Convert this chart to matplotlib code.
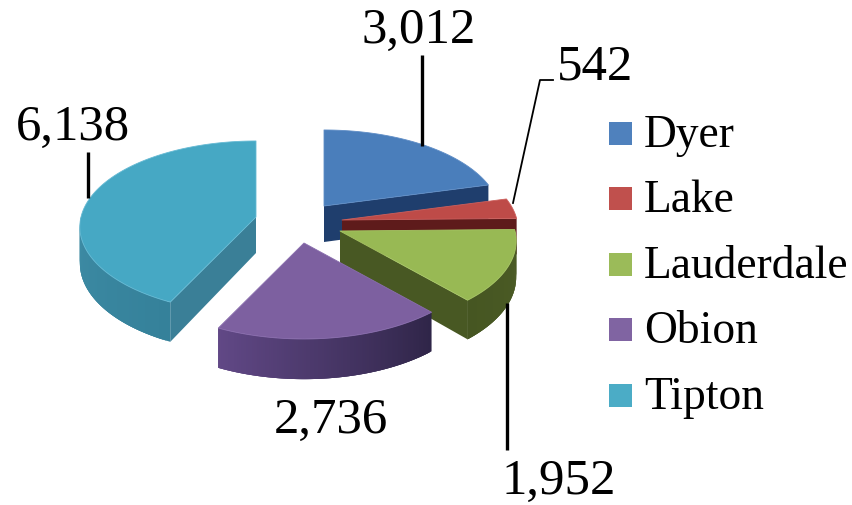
import matplotlib
matplotlib.use("Agg")
import matplotlib.pyplot as plt
from matplotlib.colors import to_rgb
from matplotlib.patches import Polygon, Rectangle
import numpy as np

plt.rcParams['font.family'] = ['Liberation Serif', 'DejaVu Serif']

counties = ["Dyer", "Lake", "Lauderdale", "Obion", "Tipton"]
values = [3012, 542, 1952, 2736, 6138]

top_colors = ["#4A7EBB", "#BE4B48", "#98B954", "#7D60A0", "#46A8C4"]
edge_colors = ["#5F8DC6", "#CC5F5C", "#A6C564", "#8A6EAE", "#66BAD4"]
# wall shade at the start and end of each slice's sweep
wall_start = ["#1F3E6D", "#5E1B1B", "#4C5C25", "#2F2548", "#35819A"]
wall_end = ["#1F3E6D", "#5E1B1B", "#465622", "#614886", "#4A9BB5"]
face_colors = ["#1F3E6D", "#5E1B1B", "#485823", "#3D2F5A", "#3A7F97"]
legend_colors = ["#4F81BD", "#C0504D", "#9BBB59", "#8064A2", "#4BACC6"]

# where each exploded slice's point ends up, in figure pixels
apex_x = [324, 342, 340, 304, 256]
apex_y = [206, 220, 231, 243, 217]

RX, RY, PERSP, DEPTH = 175, 86, 0.116, 36


def rim(theta, ax0, ay0):
    # perspective ellipse: theta runs clockwise from the back of the pie
    v = -np.cos(theta)
    s = 1 + PERSP * v
    return ax0 + RX * np.sin(theta) * s, ay0 + RY * v * s, DEPTH * s


def blend(c0, c1, t):
    return tuple((1 - t) * a + t * b for a, b in zip(to_rgb(c0), to_rgb(c1)))


def draw_slice(ax, i, th0, th1):
    x0, y0 = apex_x[i], apex_y[i]
    ts = np.linspace(th0, th1, 120)
    xs, ys, ds = rim(ts, x0, y0)

    # flat cut faces that turn towards the viewer
    for th, vis in ((th1, np.sin(th1) > 0.01), (th0, -np.sin(th0) > 0.01)):
        if vis:
            ex, ey, ed = rim(th, x0, y0)
            ax.add_patch(Polygon([(x0, y0), (ex, ey), (ex, ey + ed), (x0, y0 + DEPTH)],
                                 fc=face_colors[i], ec="none"))

    # outer wall, front half only; each strip runs under the next to hide seams
    n = len(ts)
    for k in range(n - 1):
        if np.cos(ts[k]) > 0.02 or np.cos(ts[k + 1]) > 0.02:
            continue
        e = min(k + 3, n - 1)
        if np.cos(ts[e]) > 0.02:
            e = k + 1
        c = blend(wall_start[i], wall_end[i], k / (n - 2))
        ax.add_patch(Polygon([(xs[k], ys[k]), (xs[e], ys[e]),
                              (xs[e], ys[e] + ds[e]), (xs[k], ys[k] + ds[k])],
                             fc=c, ec="none"))

    top = [(x0, y0)] + list(zip(xs, ys))
    ax.add_patch(Polygon(top, fc=top_colors[i], ec=edge_colors[i], lw=0.6, joinstyle="round"))


fig = plt.figure(figsize=(8.52, 5.05), dpi=100)
ax = fig.add_axes([0, 0, 1, 1])
ax.set_xlim(0, 852)
ax.set_ylim(505, 0)
ax.axis("off")

angles = np.concatenate([[0], np.cumsum(values)]) / sum(values) * 2 * np.pi
for i in [4, 0, 1, 2, 3]:
    draw_slice(ax, i, angles[i], angles[i + 1])

# leader lines
ax.plot([422, 422], [146, 55], color="black", lw=2.4, solid_capstyle="butt")
ax.plot([88, 88], [198, 152], color="black", lw=2.4, solid_capstyle="butt")
ax.plot([507, 507], [303, 450], color="black", lw=2.4, solid_capstyle="butt")
ax.plot([513, 540, 553], [203, 80, 80], color="black", lw=1.3)

label_x = [418.5, 595, 558.5, 331, 72.5]
label_y = [43, 79, 494, 433, 140]
for v, lx, ly in zip(values, label_x, label_y):
    ax.text(lx, ly, f"{v:,}", fontsize=36.6, ha="center", va="baseline", color="black")

legend_y = [133.5, 198.5, 264.5, 329.5, 395.5]
for name, col, ly in zip(counties, legend_colors, legend_y):
    ax.add_patch(Rectangle((609, ly - 11.5), 23, 23, fc=col, ec="none"))
    ax.text(644, ly + 13.5, name, fontsize=32.8, ha="left", va="baseline", color="black")

fig.savefig("out.png", dpi=100)
